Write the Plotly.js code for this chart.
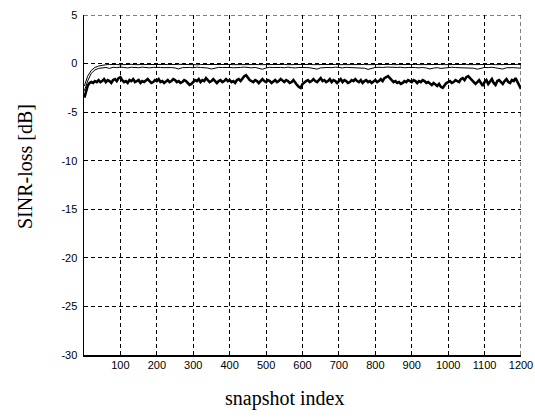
<!DOCTYPE html>
<html>
<head>
<meta charset="utf-8">
<script src="https://cdn.plot.ly/plotly-3.0.1.min.js"></script>
<style>html,body{margin:0;padding:0;background:#fff;}#chart{width:535px;height:419px;}</style>
</head>
<body>
<div id="chart"></div>
<script>
// snapshot indices for the noisy (thick) curve
const snapshotsThick = [1,5,10,15,20,25,30,35,40,45,50,55,60,65,70,75,80,85,90,95,100,
105,110,115,120,125,130,135,140,145,150,155,160,165,170,175,180,185,190,195,200,
205,210,215,220,225,230,235,240,245,250,255,260,265,270,275,280,285,290,295,300,
305,310,315,320,325,330,335,340,345,350,355,360,365,370,375,380,385,390,395,400,
405,410,415,420,425,430,435,440,445,450,455,460,465,470,475,480,485,490,495,500,
505,510,515,520,525,530,535,540,545,550,555,560,565,570,575,580,585,590,595,600,
605,610,615,620,625,630,635,640,645,650,655,660,665,670,675,680,685,690,695,700,
705,710,715,720,725,730,735,740,745,750,755,760,765,770,775,780,785,790,795,800,
805,810,815,820,825,830,835,840,845,850,855,860,865,870,875,880,885,890,895,900,
905,910,915,920,925,930,935,940,945,950,955,960,965,970,975,980,985,990,995,1000,
1005,1010,1015,1020,1025,1030,1035,1040,1045,1050,1055,1060,1065,1070,1075,1080,1085,1090,1095,1100,
1105,1110,1115,1120,1125,1130,1135,1140,1145,1150,1155,1160,1165,1170,1175,1180,1185,1190,1195,1200];

const lossThick = [-3.5,-2.9,-2.3,-2.0,-1.9,-2.0,-1.8,-1.9,-1.7,-1.9,-1.8,-1.6,-1.9,-1.7,-1.8,-2.0,-1.7,-1.6,-1.8,-1.5,-1.4,
-1.7,-1.9,-1.8,-2.0,-1.7,-1.8,-1.6,-1.9,-1.8,-1.7,-2.0,-1.8,-1.9,-1.7,-1.6,-1.8,-2.0,-1.9,-1.7,-1.8,
-1.6,-1.9,-1.8,-2.0,-1.8,-1.7,-1.9,-1.8,-1.6,-1.7,-1.9,-1.8,-2.0,-1.9,-1.7,-1.8,-2.0,-2.2,-2.1,-1.9,
-1.7,-1.8,-1.6,-1.9,-1.7,-1.8,-1.5,-1.7,-1.9,-1.8,-1.6,-1.8,-2.0,-1.8,-1.7,-1.9,-1.8,-1.6,-1.8,-1.7,
-1.9,-1.8,-2.0,-1.7,-1.6,-1.8,-1.5,-1.3,-1.2,-1.5,-1.7,-1.8,-1.9,-1.7,-1.8,-2.0,-1.8,-1.6,-1.8,-1.9,
-1.7,-1.8,-2.0,-1.8,-1.7,-1.9,-1.8,-1.6,-1.8,-1.9,-1.7,-1.8,-2.0,-1.9,-1.7,-2.0,-2.2,-2.4,-2.5,-2.1,
-1.9,-1.8,-1.7,-1.9,-1.8,-1.6,-1.8,-1.9,-1.7,-1.5,-1.8,-1.7,-1.9,-1.8,-1.6,-1.9,-1.7,-1.8,-2.0,-1.8,
-1.6,-1.9,-1.7,-1.8,-2.0,-1.9,-1.7,-1.8,-1.6,-1.8,-1.9,-1.7,-2.0,-1.8,-1.7,-1.9,-1.8,-2.0,-1.8,-1.7,
-1.9,-1.8,-1.6,-1.8,-1.5,-1.4,-1.3,-1.5,-1.7,-1.9,-1.8,-2.0,-1.9,-2.1,-2.0,-1.8,-1.9,-1.7,-1.8,-1.9,
-1.7,-1.8,-2.0,-1.8,-1.9,-1.7,-1.8,-2.0,-1.9,-2.1,-2.2,-2.0,-2.2,-2.3,-2.1,-2.4,-2.5,-2.2,-2.0,-1.9,
-1.8,-2.0,-1.9,-1.7,-1.8,-1.9,-1.6,-1.5,-1.7,-1.4,-1.3,-1.5,-1.6,-1.8,-2.1,-1.9,-1.7,-2.0,-2.3,-1.9,
-1.7,-2.1,-1.8,-1.6,-2.0,-2.2,-1.8,-1.7,-1.9,-2.1,-1.8,-1.6,-1.9,-2.0,-1.7,-1.8,-1.5,-1.9,-2.3,-2.6];

// snapshot indices for the two smooth (thin) curves
const snapshotsThin = [1,10,20,30,40,50,60,70,80,90,100,110,120,130,140,150,160,170,180,190,200,
210,220,230,240,250,260,270,280,290,300,310,320,330,340,350,360,370,380,390,400,
410,420,430,440,450,460,470,480,490,500,510,520,530,540,550,560,570,580,590,600,
610,620,630,640,650,660,670,680,690,700,710,720,730,740,750,760,770,780,790,800,
810,820,830,840,850,860,870,880,890,900,910,920,930,940,950,960,970,980,990,1000,
1010,1020,1030,1040,1050,1060,1070,1080,1090,1100,1110,1120,1130,1140,1150,1160,1170,1180,1190,1200];

const lossUpper = [-2.3,-1.3,-0.7,-0.4,-0.25,-0.16,-0.12,-0.1,-0.08,-0.1,
-0.12,-0.09,-0.1,-0.08,-0.11,-0.1,-0.09,-0.12,-0.1,-0.08,
-0.1,-0.11,-0.09,-0.1,-0.12,-0.1,-0.08,-0.1,-0.11,-0.09,
-0.1,-0.12,-0.1,-0.09,-0.11,-0.1,-0.08,-0.1,-0.12,-0.1,
-0.09,-0.11,-0.1,-0.08,-0.1,-0.12,-0.1,-0.09,-0.1,-0.11,
-0.1,-0.08,-0.1,-0.12,-0.1,-0.09,-0.11,-0.1,-0.08,-0.1,
-0.12,-0.1,-0.09,-0.11,-0.1,-0.08,-0.1,-0.12,-0.1,-0.09,
-0.11,-0.1,-0.08,-0.1,-0.12,-0.1,-0.09,-0.1,-0.11,-0.1,
-0.08,-0.1,-0.12,-0.1,-0.09,-0.11,-0.1,-0.08,-0.1,-0.12,
-0.1,-0.09,-0.11,-0.1,-0.08,-0.1,-0.12,-0.1,-0.09,-0.11,
-0.1,-0.08,-0.1,-0.12,-0.1,-0.09,-0.11,-0.1,-0.08,-0.1,
-0.12,-0.1,-0.09,-0.11,-0.1,-0.08,-0.1,-0.12,-0.1,-0.09,-0.11];

const lossLower = [-2.8,-1.8,-1.0,-0.65,-0.5,-0.42,
-0.4,-0.5,-0.38,-0.42,-0.36,-0.4,-0.45,-0.38,-0.4,-0.43,
-0.37,-0.4,-0.44,-0.39,-0.36,-0.4,-0.42,-0.38,-0.41,-0.45,
-0.55,-0.42,-0.38,-0.4,-0.43,-0.37,-0.4,-0.42,-0.46,-0.56,
-0.44,-0.39,-0.41,-0.37,-0.4,-0.43,-0.38,-0.4,-0.36,-0.41,
-0.44,-0.4,-0.47,-0.58,-0.45,-0.39,-0.41,-0.38,-0.4,-0.43,
-0.37,-0.42,-0.45,-0.4,-0.38,-0.41,-0.43,-0.47,-0.57,-0.44,
-0.39,-0.4,-0.42,-0.37,-0.4,-0.44,-0.39,-0.41,-0.38,-0.4,
-0.45,-0.48,-0.6,-0.46,-0.4,-0.38,-0.41,-0.36,-0.39,-0.42,
-0.4,-0.38,-0.43,-0.4,-0.37,-0.41,-0.44,-0.4,-0.46,-0.55,
-0.47,-0.42,-0.5,-0.45,-0.4,-0.38,-0.41,-0.43,-0.39,-0.4,
-0.44,-0.48,-0.58,-0.45,-0.4,-0.42,-0.38,-0.44,-0.47,-0.56,
-0.43,-0.4,-0.42,-0.45,-0.48];

const xTickVals = [100,200,300,400,500,600,700,800,900,1000,1100,1200];
const xTickText = ['100','200','300','400','500','600','700','800','900','1000','1100','1200'];
const yTickVals = [5,0,-5,-10,-15,-20,-25,-30];
const yTickText = ['5','0','-5','-10','-15','-20','-25','-30'];
const xRange = [0, 1200];
const yRange = [-30, 5];

const traces = [
  {x: snapshotsThin, y: lossUpper, type: 'scatter', mode: 'lines', line: {color: '#000', width: 1}, hoverinfo: 'skip'},
  {x: snapshotsThin, y: lossLower, type: 'scatter', mode: 'lines', line: {color: '#000', width: 1}, hoverinfo: 'skip'},
  {x: snapshotsThick, y: lossThick, type: 'scatter', mode: 'lines', line: {color: '#000', width: 2.6}, hoverinfo: 'skip'}
];

const gridStyle = {showgrid: true, gridcolor: '#000', gridwidth: 1, griddash: '4px,3px'};
const tickFont = {family: 'Liberation Sans, Arial, sans-serif', size: 11, color: '#000'};
const titleFont = {family: 'Liberation Serif, Times New Roman, serif', size: 20, color: '#000'};

const layout = {
  width: 535, height: 419,
  margin: {l: 84, r: 14, t: 15, b: 64, pad: 0},
  paper_bgcolor: '#fff', plot_bgcolor: '#fff',
  showlegend: false,
  xaxis: Object.assign({
    range: xRange, tickmode: 'array', tickvals: xTickVals, ticktext: xTickText,
    ticks: '', showline: true, linecolor: '#000', linewidth: 1.5, mirror: false,
    zeroline: false, tickfont: tickFont, ticklabelstandoff: -1,
    title: {text: ''}
  }, gridStyle),
  yaxis: Object.assign({
    range: yRange, tickmode: 'array', tickvals: yTickVals, ticktext: yTickText,
    ticks: '', showline: true, linecolor: '#000', linewidth: 1.5, mirror: false,
    zeroline: false, tickfont: tickFont, ticklabelstandoff: 3,
    title: {text: ''}
  }, gridStyle),
  // dashed grid lines at the upper and right range edges (Plotly omits edge grid lines)
  shapes: [
    {type: 'line', xref: 'paper', x0: 0, x1: 1, yref: 'y', y0: yRange[1], y1: yRange[1],
     line: {color: '#000', width: 1, dash: '4px,3px'}},
    {type: 'line', xref: 'x', x0: xRange[1], x1: xRange[1], yref: 'paper', y0: 0, y1: 1,
     line: {color: '#000', width: 1, dash: '4px,3px'}}
  ],
  annotations: [
    {text: 'SINR-loss [dB]', xref: 'paper', yref: 'paper', showarrow: false,
     x: (25 - 84) / 437, y: 1 - (166 - 15) / 340, xanchor: 'center', yanchor: 'middle',
     textangle: -90, font: titleFont},
    {text: 'snapshot index', xref: 'paper', yref: 'paper', showarrow: false,
     x: (284 - 84) / 437, y: -(398 - 355) / 340, xanchor: 'center', yanchor: 'middle',
     font: titleFont}
  ]
};

Plotly.newPlot('chart', traces, layout, {staticPlot: true, displayModeBar: false});
</script>
</body>
</html>
